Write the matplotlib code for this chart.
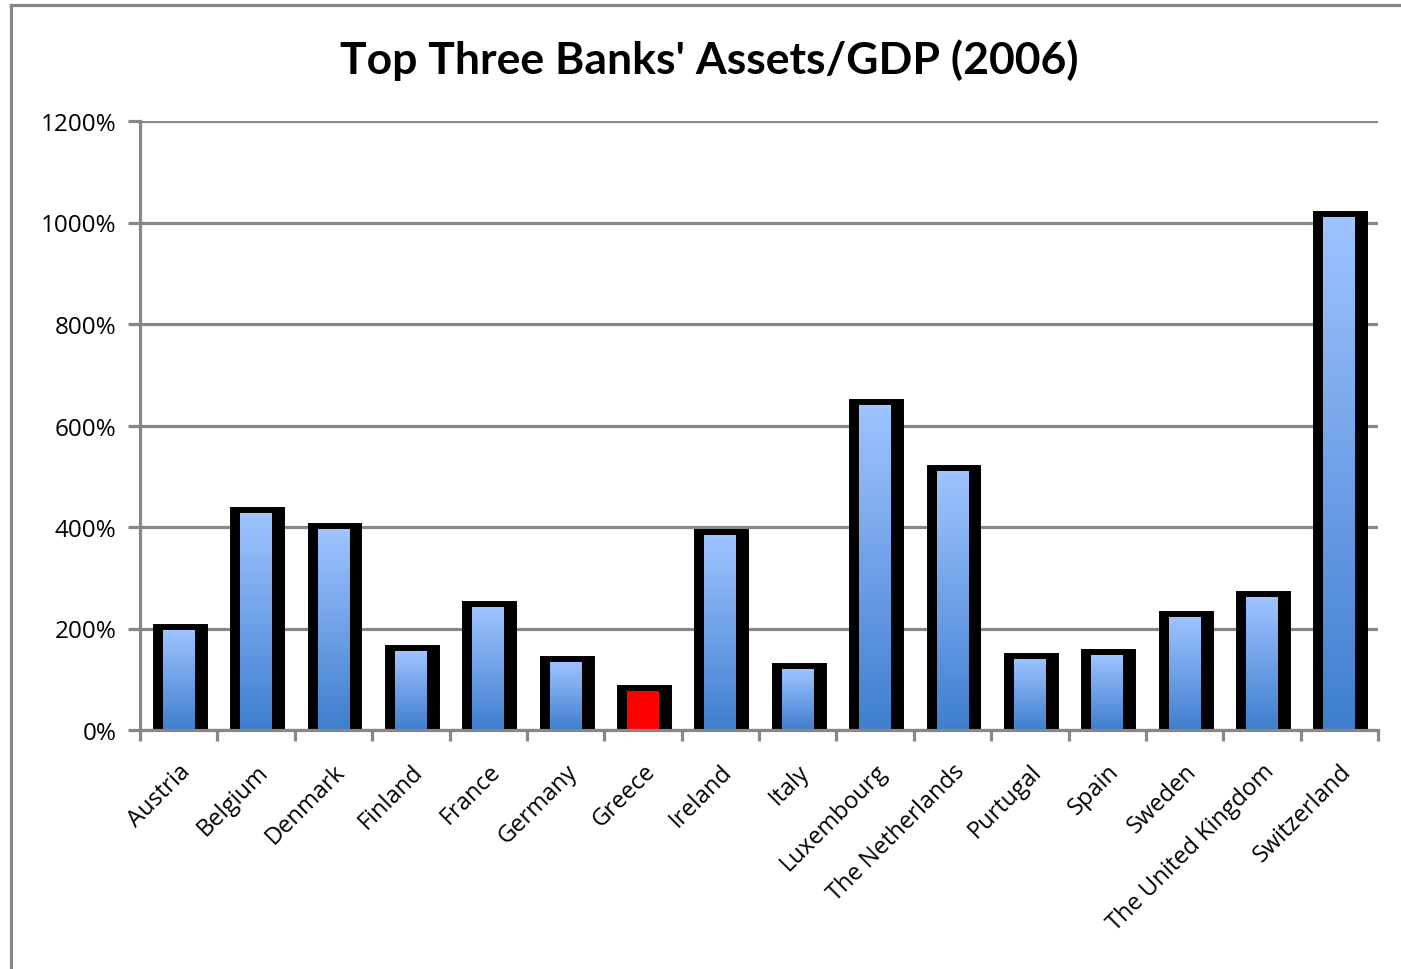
import numpy as np
import matplotlib
matplotlib.use("Agg")
import matplotlib.pyplot as plt
from matplotlib.colors import LinearSegmentedColormap
from matplotlib.lines import Line2D

countries = ["Austria", "Belgium", "Denmark", "Finland", "France", "Germany",
             "Greece", "Ireland", "Italy", "Luxembourg", "The Netherlands",
             "Purtugal", "Spain", "Sweden", "The United Kingdom", "Switzerland"]
assets_gdp = [197, 428, 396, 156, 242, 134, 77, 384, 120, 640, 510,
              140, 148, 223, 262, 1011]
highlight = "Greece"
y_ticks = [0, 200, 400, 600, 800, 1000, 1200]

FONT = "Open Sans"
GRAY = "#878787"

fig = plt.figure(figsize=(14.01, 9.70), dpi=100)
W, H = 1401, 970
ax = fig.add_axes([140 / W, (H - 731) / H, (1378 - 140) / W, (731 - 122) / H])

blue_cmap = LinearSegmentedColormap.from_list("bar", ["#3f7ecf", "#9fc4ff"])
grad = np.linspace(0, 1, 256).reshape(-1, 1)

n = len(countries)
x = np.arange(n)
inner_w = 0.41
outer_w = 0.555

# black frame behind each bar
ax.bar(x + 0.02, assets_gdp, width=outer_w, color="black", edgecolor="black",
       linewidth=8.6, zorder=3)

for xi, name, val in zip(x, countries, assets_gdp):
    if name == highlight:
        ax.bar(xi, val, width=inner_w, color="#ff0000", linewidth=0, zorder=4)
    else:
        bar = ax.bar(xi, val, width=inner_w, color="none", linewidth=0, zorder=4)[0]
        im = ax.imshow(grad, extent=[xi - inner_w / 2, xi + inner_w / 2, 0, val],
                       origin="lower", aspect="auto", cmap=blue_cmap, zorder=4)
        im.set_clip_path(bar)

ax.set_xlim(-0.5, n - 0.5)
ax.set_ylim(0, 1200)

# grid and axes
ax.set_yticks(y_ticks)
ax.set_yticklabels([f"{v}%" for v in y_ticks], fontfamily=FONT, fontsize=17.5)
ax.yaxis.grid(True, color=GRAY, linewidth=2.3, zorder=1)
ax.set_axisbelow(True)
for s in ["top", "right"]:
    ax.spines[s].set_visible(False)
for s in ["left", "bottom"]:
    ax.spines[s].set_color(GRAY)
    ax.spines[s].set_linewidth(2.3)
    ax.spines[s].set_zorder(6)
ax.tick_params(axis="y", length=9, width=2.3, color=GRAY, pad=8)

ax.set_xticks(x)
ax.set_xticks(np.arange(-0.5, n, 1.0), minor=True)
ax.tick_params(axis="x", which="major", length=0, pad=21)
ax.tick_params(axis="x", which="minor", length=8, width=2.3, color=GRAY)
ax.set_xticklabels(countries, rotation=45, ha="right", va="top",
                   rotation_mode="anchor", fontfamily=FONT, fontsize=17)

fig.text(709 / W, 1 - 60 / H, "Top Three Banks' Assets/GDP (2006)",
         ha="center", va="center", fontsize=32, fontweight="bold",
         fontfamily="Lato")

# outer chart frame
fig.add_artist(Line2D([11 / W, 11 / W], [0, 1 - 6 / H], color=GRAY, lw=2.3,
                      transform=fig.transFigure))
fig.add_artist(Line2D([11 / W, 1], [1 - 6 / H, 1 - 6 / H], color=GRAY, lw=2.3,
                      transform=fig.transFigure))

fig.savefig("out.png", dpi=100)
